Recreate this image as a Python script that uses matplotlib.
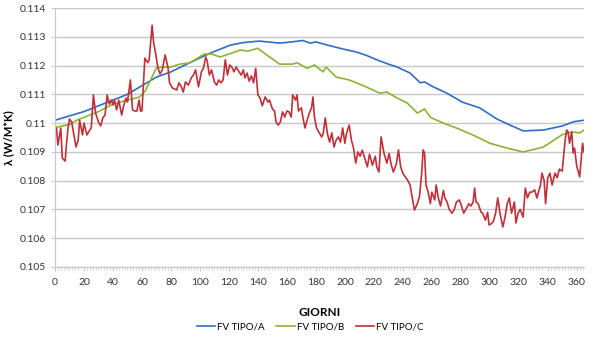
import numpy as np
import matplotlib
matplotlib.use("Agg")
from matplotlib import pyplot as plt
from matplotlib.ticker import MultipleLocator, FixedLocator

# serie (giorno, lambda)
days_a = [0, 10, 20, 30, 40, 50, 60, 70, 80, 93, 107, 121, 130, 141, 155, 163, 171, 176, 180,
          188, 199, 208, 215, 222, 230, 236, 245, 252, 255, 261, 270, 281, 293, 305, 314, 323,
          337, 350, 358, 365]
vals_a = [0.1101, 0.11025, 0.1104, 0.1106, 0.1108, 0.1110, 0.1113, 0.1116, 0.11178, 0.1121,
          0.11243, 0.11271, 0.1128, 0.11285, 0.11278, 0.11282, 0.11287, 0.11278, 0.11282,
          0.11271, 0.11257, 0.11247, 0.11235, 0.1122, 0.11205, 0.11195, 0.11174, 0.1114,
          0.11143, 0.11126, 0.11105, 0.11073, 0.11053, 0.11014, 0.10993, 0.10973, 0.10976,
          0.1099, 0.11005, 0.1101]

days_b = [0, 5, 10, 15, 20, 30, 40, 50, 58, 62, 66, 70, 75, 80, 86, 93, 103, 108, 114, 120,
          128, 133, 140, 146, 155, 164, 167, 174, 179, 185, 187, 194, 203, 212, 224, 229, 236,
          243, 250, 255, 259, 268, 277, 290, 300, 312, 323, 330, 337, 344, 350, 357, 362, 365]
vals_b = [0.10985, 0.1099, 0.10995, 0.1101, 0.1102, 0.1104, 0.11066, 0.1108, 0.1109, 0.1111,
          0.1115, 0.11192, 0.11195, 0.11195, 0.11205, 0.11209, 0.1124, 0.1124, 0.1123, 0.1124,
          0.11254, 0.1125, 0.1126, 0.11237, 0.11205, 0.11205, 0.1121, 0.1119, 0.11202, 0.11178,
          0.11195, 0.1116, 0.1115, 0.11132, 0.11104, 0.11108, 0.11087, 0.1107, 0.11035, 0.11049,
          0.1102, 0.11, 0.10983, 0.10955, 0.1093, 0.10913, 0.109, 0.10908, 0.10917, 0.1094,
          0.1096, 0.10969, 0.10966, 0.10976]

days_c = [0, 1, 2, 4, 5, 7, 8, 9, 10, 11.5, 14.5, 16, 17, 19, 20, 22, 24, 25, 26.5, 28, 30,
          31.5, 33, 34.5, 36, 37.5, 39, 40, 41, 42.5, 44, 46, 47.5, 49, 50, 52, 53.5, 55, 56.5,
          58, 59, 60, 62, 64, 65, 67, 68, 69.5, 71, 72.5, 74, 76, 78, 79, 81, 84, 85.5, 87,
          88.5, 90, 92, 94, 95.5, 97, 99, 101, 102.5, 104, 105, 106.5, 108, 110, 111.5, 113,
          114.5, 116, 117.5, 119, 120.5, 122, 123.5, 125, 127, 128.5, 130, 131, 132.5, 134,
          135.5, 137, 138.5, 140, 141.5, 143, 145, 147, 148, 150, 151.5, 152.5, 154, 155.5,
          157, 158.5, 160, 161.5, 163, 164, 166, 167, 168, 170, 171, 172.5, 174, 175.5, 177,
          178, 179, 180.5, 182, 184, 185, 186.5, 188, 189.5, 191, 192.5, 194, 195.5, 197,
          198.5, 200, 201, 203, 204.5, 206, 207.5, 209, 210.5, 212, 213.5, 215.5, 217, 219,
          221, 222, 223.5, 225, 227, 229, 230.5, 232, 233.5, 235.5, 237, 238.5, 240, 241.5,
          243.5, 245, 246.5, 248, 250, 251.5, 253, 254, 255, 256, 257.5, 259, 260, 262, 263,
          264.5, 266, 268, 269, 270.5, 272, 274, 275.5, 277, 279, 280.5, 282, 284, 285.5, 287,
          288.5, 289.5, 290.5, 292, 294, 295, 297, 298.5, 299.5, 301, 302.5, 304, 305.5, 307,
          309, 310.5, 312, 313.5, 315, 317, 318, 319.5, 321, 323, 324.5, 326, 327.5, 329, 331,
          332.5, 334, 335, 336, 337.5, 338.5, 340, 341.5, 343, 345, 346.5, 348, 350, 351, 352,
          353, 354, 355, 356.5, 357.5, 358.5, 360, 361, 362, 363, 364, 365]
vals_c = [0.1098, 0.10983, 0.10924, 0.10983, 0.10879, 0.10868, 0.10931, 0.10983, 0.11014,
          0.11004, 0.10917, 0.10941, 0.1101, 0.10959, 0.11, 0.10959, 0.10976, 0.10983, 0.11098,
          0.11035, 0.11004, 0.1099, 0.11018, 0.11028, 0.11098, 0.11066, 0.1108, 0.11063, 0.1108,
          0.11046, 0.1108, 0.11028, 0.11063, 0.11087, 0.11073, 0.1115, 0.11046, 0.11042,
          0.11042, 0.1108, 0.11042, 0.11042, 0.11226, 0.1121, 0.1122, 0.1134, 0.11282, 0.1124,
          0.11192, 0.11171, 0.11185, 0.11237, 0.11192, 0.1114, 0.11122, 0.11115, 0.1114,
          0.11128, 0.11108, 0.11143, 0.11132, 0.11157, 0.11167, 0.11185, 0.11126, 0.11178,
          0.11192, 0.1123, 0.11216, 0.11167, 0.11185, 0.11143, 0.11132, 0.1115, 0.1114, 0.1115,
          0.1122, 0.11167, 0.11202, 0.11195, 0.11178, 0.11195, 0.11178, 0.11167, 0.11185,
          0.11157, 0.11174, 0.11146, 0.11164, 0.1114, 0.1119, 0.11098, 0.11087, 0.1106,
          0.11091, 0.11073, 0.1108, 0.11049, 0.11042, 0.11004, 0.10993, 0.11004, 0.11039,
          0.11021, 0.11042, 0.11039, 0.11021, 0.11098, 0.1108, 0.11098, 0.11042, 0.11053,
          0.11021, 0.10983, 0.11011, 0.11035, 0.11053, 0.11091, 0.11021, 0.10983, 0.10969,
          0.10952, 0.10962, 0.11018, 0.10962, 0.10934, 0.10966, 0.10917, 0.10941, 0.10952,
          0.10934, 0.10983, 0.1093, 0.10962, 0.10993, 0.10941, 0.10913, 0.10861, 0.109,
          0.10885, 0.10906, 0.10882, 0.10848, 0.10892, 0.10854, 0.10885, 0.10848, 0.1083,
          0.10952, 0.10895, 0.10861, 0.10895, 0.10855, 0.1083, 0.10858, 0.10907, 0.10848,
          0.10826, 0.10814, 0.108, 0.10785, 0.1074, 0.10698, 0.1072, 0.10745, 0.10826, 0.10907,
          0.10895, 0.10785, 0.1076, 0.1072, 0.1076, 0.10733, 0.10785, 0.1074, 0.10712, 0.10766,
          0.1074, 0.10726, 0.107, 0.10687, 0.107, 0.10726, 0.10733, 0.10712, 0.10687, 0.10705,
          0.1072, 0.10712, 0.10726, 0.10774, 0.10726, 0.1072, 0.1069, 0.10687, 0.10663, 0.1069,
          0.10646, 0.1065, 0.10659, 0.10687, 0.1074, 0.10687, 0.10639, 0.10673, 0.1072, 0.1074,
          0.10687, 0.10726, 0.10653, 0.10687, 0.107, 0.10673, 0.10774, 0.1074, 0.1076, 0.1076,
          0.10768, 0.1074, 0.10768, 0.10785, 0.10826, 0.108, 0.1072, 0.1081, 0.10826, 0.10785,
          0.10826, 0.1081, 0.1084, 0.10833, 0.1089, 0.10941, 0.10976, 0.1097, 0.1093, 0.1097,
          0.10896, 0.10913, 0.1085, 0.10833, 0.10813, 0.1087, 0.1093, 0.109]

labels = ["FV TIPO/A", "FV TIPO/B", "FV TIPO/C"]
colors = ["#2f6fc3", "#8ab533", "#c0303a"]
y_ticks = [0.105, 0.106, 0.107, 0.108, 0.109, 0.11, 0.111, 0.112, 0.113, 0.114]

plt.rcParams['font.family'] = ['Lato', 'DejaVu Sans']

fig = plt.figure(figsize=(6.0, 3.38), dpi=100)
ax = fig.add_axes([55 / 600, 71 / 338, 529 / 600, 259 / 338])

ax.plot(days_a, vals_a, color=colors[0], lw=1.2, label=labels[0])
ax.plot(days_b, vals_b, color=colors[1], lw=1.2, label=labels[1])
ax.plot(days_c, vals_c, color=colors[2], lw=1.2, label=labels[2])

ax.set_xlim(0, 365)
ax.set_ylim(0.105, 0.114)
ax.xaxis.set_major_locator(MultipleLocator(20))
ax.xaxis.set_minor_locator(MultipleLocator(2))
ax.yaxis.set_major_locator(FixedLocator(y_ticks))
ax.set_yticklabels([("%.3f" % v).rstrip("0") for v in y_ticks])

ax.grid(axis="y", color="#c8c8c8", lw=1.0)
ax.set_axisbelow(True)
for s in ["top", "right"]:
    ax.spines[s].set_visible(False)
ax.spines["left"].set_color("#c8c8c8")
ax.spines["bottom"].set_color("#c8c8c8")
ax.tick_params(axis="x", which="major", length=3, color="#c8c8c8", labelsize=7.5,
               labelcolor="#333333", pad=5)
ax.tick_params(axis="x", which="minor", length=2, color="#d0d0d0")
ax.tick_params(axis="y", length=3, color="#c8c8c8", labelsize=7.5, labelcolor="#333333")

ax.set_xlabel("GIORNI", fontsize=8.5, fontweight="bold", labelpad=14)
ax.set_ylabel("λ (W/M*K)", fontsize=8, fontweight="bold")
ax.yaxis.set_label_coords(-0.078, 0.5)

fig.legend(loc="center", bbox_to_anchor=(310 / 600, 1 - 327 / 338), ncol=3, frameon=False,
           fontsize=7, handlelength=1.9, columnspacing=1.2, handletextpad=0.2)

fig.savefig("out.png", dpi=100)
